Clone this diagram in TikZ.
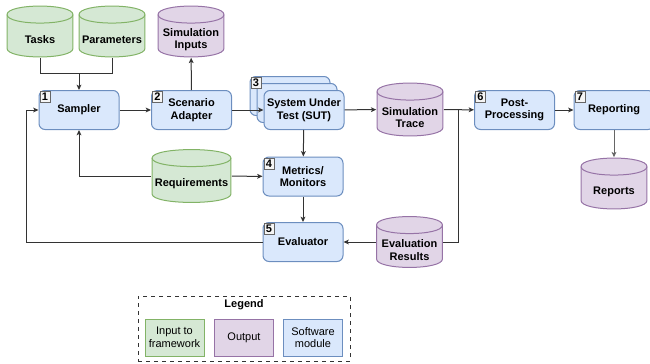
\documentclass[tikz,border=0pt]{standalone}
\usepackage{fontspec}
\setmainfont{Liberation Sans}
\usetikzlibrary{arrows.meta}

\definecolor{inF}{HTML}{D5E8D4}
\definecolor{inD}{HTML}{82B366}
\definecolor{outF}{HTML}{E1D5E7}
\definecolor{outD}{HTML}{9673A6}
\definecolor{modF}{HTML}{DAE8FC}
\definecolor{modD}{HTML}{6C8EBF}
\definecolor{numF}{HTML}{F5F5F5}
\definecolor{numD}{HTML}{666666}

\tikzset{dbS/.style 2 args={rectangle,minimum width=50.25pt,minimum height=39pt,inner sep=0pt,
    path picture={
      \path[fill=#1,draw=#2,line width=0.75pt]
        ([shift={(0.4pt,-6.8pt)}]path picture bounding box.north west)
        -- ([shift={(0.4pt,6.8pt)}]path picture bounding box.south west)
        .. controls +(0pt,-8.5pt) and +(0pt,-8.5pt) .. ([shift={(-0.4pt,6.8pt)}]path picture bounding box.south east)
        -- ([shift={(-0.4pt,-6.8pt)}]path picture bounding box.north east)
        .. controls +(0pt,8.5pt) and +(0pt,8.5pt) .. ([shift={(0.4pt,-6.8pt)}]path picture bounding box.north west)
        -- cycle;
      \draw[#2,line width=0.75pt]
        ([shift={(0.4pt,-6.8pt)}]path picture bounding box.north west)
        .. controls +(0pt,-8.5pt) and +(0pt,-8.5pt) .. ([shift={(-0.4pt,-6.8pt)}]path picture bounding box.north east);
    }}}
\tikzstyle{mS}=[rectangle,rounded corners=4.5pt,minimum width=60pt,minimum height=29.25pt,inner sep=0pt,draw=modD,fill=modF,line width=0.75pt,font=\fontsize{8.25}{9.5}\selectfont\bfseries,align=center]
\tikzstyle{dtS}=[yshift=-6pt,inner sep=0pt,font=\fontsize{8.25}{9.5}\selectfont\bfseries,align=center]
\tikzstyle{iS}=[dbS={inF}{inD}]
\tikzstyle{oS}=[dbS={outF}{outD}]
\tikzstyle{kS}=[rectangle,anchor=north west,minimum width=7.5pt,minimum height=8.25pt,inner sep=0pt,draw=numD,fill=numF,line width=0.5pt,font=\fontsize{8.25}{9}\selectfont\bfseries]
\tikzstyle{eS}=[draw=black!80,line width=0.75pt,-{Stealth[length=4pt,width=3.6pt,inset=1pt]}]
\tikzstyle{lS}=[rectangle,minimum width=44.25pt,minimum height=27.75pt,inner sep=0pt,line width=0.75pt,font=\fontsize{8.25}{9.5}\selectfont,align=center]

\begin{document}
\begin{tikzpicture}[x=0.75pt,y=-0.75pt]
    \useasboundingbox (0,0) rectangle (650,364);
    % inputs and outputs
    \draw (40,31.5) node[iS,label={[dtS,name=tasksT]center:Tasks}] (tasks) {};
    \draw (112,31.5) node[iS,label={[dtS,name=paramsT]center:Parameters}] (params) {};
    \draw (191,31.5) node[oS,label={[dtS,name=siminT]center:Simulation\\Inputs}] (simin) {};
    \draw (410,109.5) node[oS,minimum height=40.5pt,label={[dtS,name=traceT]center:Simulation\\Trace}] (trace) {};
    \draw (191.5,176) node[iS,minimum width=60pt,minimum height=40.5pt,label={[dtS,name=reqsT]center:Requirements}] (reqs) {};
    \draw (409.5,242) node[oS,label={[dtS,name=evalresT]center:Evaluation\\Results}] (evalres) {};
    \draw (614,183.5) node[oS,label={[dtS,name=reportsT]center:Reports}] (reports) {};
    % modules
    \draw (79,110) node[mS] (sampler) {Sampler};
    \draw (191.5,110) node[mS] (adapter) {Scenario\\Adapter};
    \draw (290,96) node[mS] (sutB) {};
    \draw (297,103) node[mS] (sutM) {};
    \draw (304,110) node[mS] (sut) {System Under\\Test (SUT)};
    \draw (303,176.5) node[mS] (metrics) {Metrics/\\Monitors};
    \draw (303,242) node[mS] (evaluator) {Evaluator};
    \draw (514.5,110) node[mS] (post) {Post-\\Processing};
    \draw (614,110) node[mS] (report) {Reporting};
    % step numbers
    \node[kS] (k1) at ([shift={(1,1)}]sampler.north west) {1};
    \node[kS] (k2) at ([shift={(1,1)}]adapter.north west) {2};
    \node[kS] (k3) at ([shift={(1,1)}]sutB.north west) {3};
    \node[kS] (k4) at ([shift={(1,1)}]metrics.north west) {4};
    \node[kS] (k5) at ([shift={(1,1)}]evaluator.north west) {5};
    \node[kS] (k6) at ([shift={(1,1)}]post.north west) {6};
    \node[kS] (k7) at ([shift={(1,1)}]report.north west) {7};
    % connectors
    \coordinate (jIn) at (79,73);
    \coordinate (jOut) at (458,110);
    \coordinate (jBack) at (26,242);
    \draw[eS,-] (tasks.south) |- (jIn);
    \draw[eS,-] (params.south) |- (jIn);
    \draw[eS,-] (evalres.east) -| (jOut);
    \draw[eS] (reqs.west) -| (sampler.south);
    \draw[eS] (evaluator.west) -- (jBack) |- (sampler.west);
    \path
        (jIn) edge[eS] (sampler)
        (sampler) edge[eS] (adapter)
        (adapter) edge[eS] (simin)
        (adapter) edge[eS] (sut)
        (sut) edge[eS] (trace)
        (trace) edge[eS] (post)
        (post) edge[eS] (report)
        (report) edge[eS,draw=numD] (reports)
        (sut) edge[eS] (metrics)
        (reqs) edge[eS] (metrics)
        (metrics) edge[eS] (evaluator)
        (evaluator) edge[eS,{Stealth[length=4pt,width=3.6pt,inset=1pt]}-] (evalres)
    ;
    % legend
    \draw (244,328.5) node[rectangle,minimum width=159pt,minimum height=48.75pt,draw=black!80,dashed,line width=0.5pt] (legend) {};
    \draw (244,305) node[font=\fontsize{8.25}{9.5}\selectfont\bfseries] (legT) {Legend};
    \draw (174.5,337.5) node[lS,draw=inD,fill=inF] (legIn) {Input to\\framework};
    \draw (244,337.5) node[lS,draw=outD,fill=outF] (legOut) {Output};
    \draw (313,337.5) node[lS,draw=modD,fill=modF] (legMod) {Software\\module};
\end{tikzpicture}
\end{document}
